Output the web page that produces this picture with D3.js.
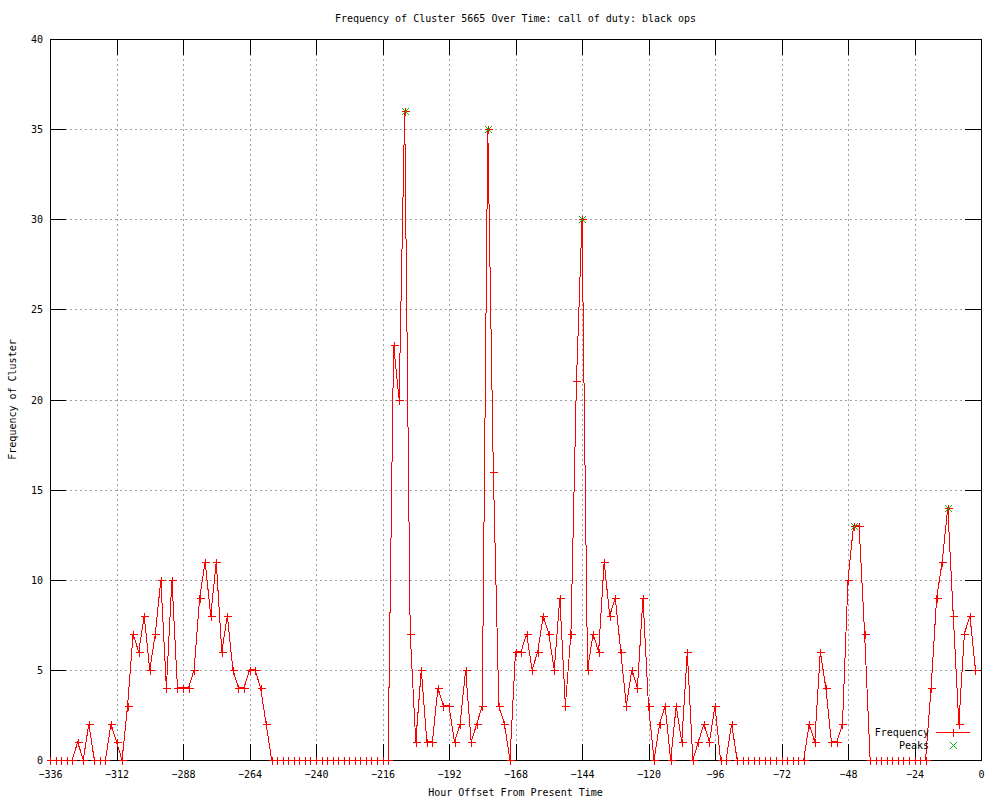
<!DOCTYPE html>
<html>
<head>
<meta charset="utf-8">
<script src="https://cdn.jsdelivr.net/npm/d3@7"></script>
<style>
  html, body { margin: 0; padding: 0; background: #fff; }
  svg { display: block; }
  text { font-family: "DejaVu Sans Mono", "Liberation Mono", monospace; font-size: 10px; fill: #000; }
</style>
</head>
<body>
<svg id="chart" width="1000" height="800"></svg>
<script>
// ---- data ----
const hours = [
  -336,-334,-332,-330,-328,-326,-324,-322,-320,-318,-316,-314,-312,-310,-308,-306,-304,-302,-300,-298,
  -296,-294,-292,-290,-288,-286,-284,-282,-280,-278,-276,-274,-272,-270,-268,-266,-264,-262,-260,-258,
  -256,-254,-252,-250,-248,-246,-244,-242,-240,-238,-236,-234,-232,-230,-228,-226,-224,-222,-220,-218,
  -216,-214,-212,-210,-208,-206,-204,-202,-200,-198,-196,-194,-192,-190,-188,-186,-184,-182,-180,-178,
  -176,-174,-172,-170,-168,-166,-164,-162,-160,-158,-156,-154,-152,-150,-148,-146,-144,-142,-140,-138,
  -136,-134,-132,-130,-128,-126,-124,-122,-120,-118,-116,-114,-112,-110,-108,-106,-104,-102,-100,-98,
  -96,-94,-92,-90,-88,-86,-84,-82,-80,-78,-76,-74,-72,-70,-68,-66,-64,-62,-60,-58,
  -56,-54,-52,-50,-48,-46,-44,-42,-40,-38,-36,-34,-32,-30,-28,-26,-24,-22,-20,-18,
  -16,-14,-12,-10,-8,-6,-4,-2
];
const frequency = [
  0,0,0,0,0,1,0,2,0,0,0,2,1,0,3,7,6,8,5,7,
  10,4,10,4,4,4,5,9,11,8,11,6,8,5,4,4,5,5,4,2,
  0,0,0,0,0,0,0,0,0,0,0,0,0,0,0,0,0,0,0,0,
  0,0,23,20,36,7,1,5,1,1,4,3,3,1,2,5,1,2,3,35,
  16,3,2,0,6,6,7,5,6,8,7,5,9,3,7,21,30,5,7,6,
  11,8,9,6,3,5,4,9,3,0,2,3,0,3,1,6,0,1,2,1,
  3,0,0,2,0,0,0,0,0,0,0,0,0,0,0,0,0,2,1,6,
  4,1,1,2,10,13,13,7,0,0,0,0,0,0,0,0,0,0,0,4,
  9,11,14,8,2,7,8,5
];
const peakHours = [-208, -178, -144, -46, -12];
const peakValues = [36, 35, 30, 13, 14];
const xTicks = [-336,-312,-288,-264,-240,-216,-192,-168,-144,-120,-96,-72,-48,-24,0];
const yTicks = [0,5,10,15,20,25,30,35,40];

const titleText = "Frequency of Cluster 5665 Over Time: call of duty: black ops";
const xLabel = "Hour Offset From Present Time";
const yLabel = "Frequency of Cluster";
const legendLabels = ["Frequency", "Peaks"];

// ---- layout ----
const W = 1000, H = 800;
const m = { left: 50, right: 19, top: 39, bottom: 40 };
const iw = W - m.left - m.right, ih = H - m.top - m.bottom;
const svg = d3.select("#chart");
const g = svg.append("g").attr("transform", `translate(${m.left},${m.top})`);

const x = d3.scaleLinear().domain([-336, 0]).range([0, iw]);
const y = d3.scaleLinear().domain([0, 40]).range([ih, 0]);

// grid
const grid = g.append("g").attr("class", "grid");
grid.selectAll("line.gx").data(xTicks).join("line")
  .attr("x1", d => Math.round(x(d)) + 0.5).attr("x2", d => Math.round(x(d)) + 0.5)
  .attr("y1", 0).attr("y2", ih)
  .attr("stroke", "#a0a0a0").attr("stroke-dasharray", "2,3");
grid.selectAll("line.gy").data(yTicks).join("line")
  .attr("y1", d => Math.round(y(d)) + 0.5).attr("y2", d => Math.round(y(d)) + 0.5)
  .attr("x1", 0).attr("x2", iw)
  .attr("stroke", "#a0a0a0").attr("stroke-dasharray", "2,3");

// axes (ticks inward, mirrored)
const TS = 16;
const xAxis = g.append("g").attr("transform", `translate(0,${ih})`)
  .call(d3.axisBottom(x).tickValues(xTicks).tickSize(-TS).tickFormat(d3.format("d")));
const xAxisTop = g.append("g")
  .call(d3.axisTop(x).tickValues(xTicks).tickSize(-TS).tickFormat(""));
const yAxis = g.append("g")
  .call(d3.axisLeft(y).tickValues(yTicks).tickSize(-TS).tickFormat(d3.format("d")));
const yAxisRight = g.append("g").attr("transform", `translate(${iw},0)`)
  .call(d3.axisRight(y).tickValues(yTicks).tickSize(-TS).tickFormat(""));
[xAxis, xAxisTop, yAxis, yAxisRight].forEach(a => {
  a.select(".domain").remove();
  a.selectAll("line").attr("stroke", "#000").attr("shape-rendering", "crispEdges");
  a.selectAll("text").attr("font-family", "DejaVu Sans Mono, monospace").attr("font-size", 10).attr("fill", "#000");
});
xAxis.selectAll("text").attr("y", 14).attr("dy", "0.35em");
yAxis.selectAll("text").attr("x", -7).attr("dy", "0.35em");

// border
g.append("rect").attr("x", 0.5).attr("y", 0.5).attr("width", iw).attr("height", ih)
  .attr("fill", "none").attr("stroke", "#000").attr("shape-rendering", "crispEdges");

// line
const pts = hours.map((h, i) => [h, frequency[i]]);
const line = d3.line().x(d => x(d[0])).y(d => y(d[1]));
g.append("path").datum(pts).attr("d", line)
  .attr("fill", "none").attr("stroke", "#ff0000").attr("stroke-width", 1)
  .attr("shape-rendering", "crispEdges");

// crosses
const cs = 4;
const crossPath = (cx, cy) => `M${cx - cs},${cy}H${cx + cs}M${cx},${cy - cs}V${cy + cs}`;
g.append("path")
  .attr("d", pts.map(d => crossPath(Math.round(x(d[0])) + 0.5, Math.round(y(d[1])) + 0.5)).join(""))
  .attr("stroke", "#ff0000").attr("fill", "none").attr("shape-rendering", "crispEdges");

// peaks (green x)
const xs = 3.5;
const xPath = (cx, cy) => `M${cx - xs},${cy - xs}L${cx + xs},${cy + xs}M${cx - xs},${cy + xs}L${cx + xs},${cy - xs}`;
g.append("path")
  .attr("d", peakHours.map((h, i) => xPath(Math.round(x(h)) + 0.5, Math.round(y(peakValues[i])) + 0.5)).join(""))
  .attr("stroke", "#00c000").attr("fill", "none").attr("shape-rendering", "crispEdges");

// title & labels
svg.append("text").attr("x", m.left + iw / 2).attr("y", 19).attr("text-anchor", "middle")
  .attr("dominant-baseline", "middle").text(titleText);
svg.append("text").attr("x", m.left + iw / 2).attr("y", 793).attr("text-anchor", "middle")
  .attr("dominant-baseline", "middle").text(xLabel);
svg.append("text").attr("transform", `translate(13,${m.top + ih / 2}) rotate(-90)`)
  .attr("text-anchor", "middle").attr("dominant-baseline", "middle").text(yLabel);

// legend
const leg = svg.append("g");
const ly = [732.5, 745.5];
leg.append("text").attr("x", 929).attr("y", ly[0]).attr("text-anchor", "end")
  .attr("dominant-baseline", "middle").text(legendLabels[0]);
leg.append("text").attr("x", 929).attr("y", ly[1]).attr("text-anchor", "end")
  .attr("dominant-baseline", "middle").text(legendLabels[1]);
leg.append("line").attr("x1", 936).attr("x2", 970).attr("y1", ly[0]).attr("y2", ly[0])
  .attr("stroke", "#ff0000").attr("shape-rendering", "crispEdges");
leg.append("path").attr("d", crossPath(953.5, ly[0]))
  .attr("stroke", "#ff0000").attr("fill", "none").attr("shape-rendering", "crispEdges");
leg.append("path").attr("d", xPath(953.5, ly[1]))
  .attr("stroke", "#00c000").attr("fill", "none").attr("shape-rendering", "crispEdges");
</script>
</body>
</html>
